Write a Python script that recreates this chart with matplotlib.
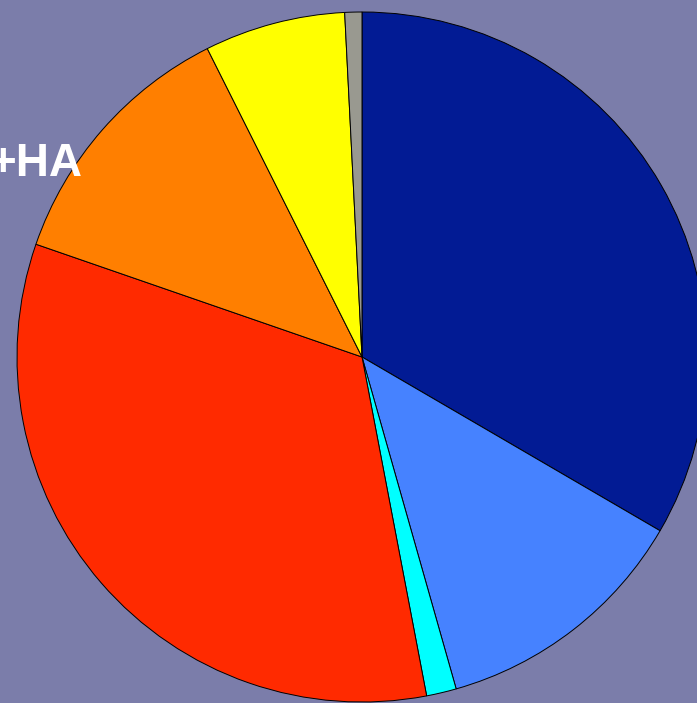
import matplotlib.pyplot as plt

labels = ['A', 'B', 'C', 'D', 'E', 'F', 'G']
shares = [33.4, 12.2, 1.4, 33.3, 12.3, 6.6, 0.8]
colors = ['#021B94', '#4682FF', '#00FFFF', '#FF2A00', '#FF7F00', '#FFFF00', '#999990']
title_text = '+HA'

BG = '#7B7DAA'


def render():
    fig = plt.figure(figsize=(6.97, 7.03), dpi=100, facecolor=BG)
    ax = fig.add_axes([0, 0, 1, 1])
    ax.set_facecolor(BG)

    ax.pie(shares, colors=colors, startangle=90, counterclock=False,
           center=(362, 346), radius=345, frame=True,
           wedgeprops=dict(edgecolor='black', linewidth=0.7))
    ax.set_xlim(0, 697)
    ax.set_ylim(0, 703)
    ax.set_aspect('equal')
    ax.axis('off')

    ax.text(82, 527, title_text, ha='right', va='baseline', color='white',
            fontsize=33, fontweight='bold', family='Liberation Sans')

    fig.savefig('out.png', facecolor=BG)


if __name__ == '__main__':
    render()
